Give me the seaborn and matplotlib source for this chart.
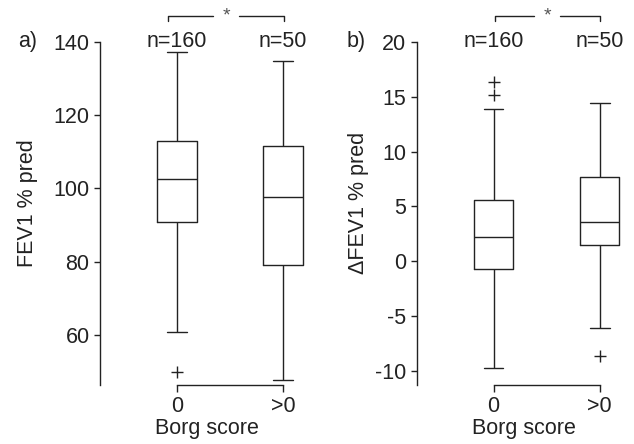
import numpy as np
import pandas as pd
import matplotlib
matplotlib.use("Agg")
import matplotlib.pyplot as plt
import matplotlib.transforms as mtransforms
import seaborn as sns

# ---- data ----
groups = ["0", ">0"]
group_n = ["n=160", "n=50"]

# panel a: FEV1 % pred  (lower whisker, Q1, median, Q3, upper whisker)
fev_whislo = [60.8, 47.6]
fev_q1 = [90.8, 79.2]
fev_med = [102.6, 97.8]
fev_q3 = [113.0, 111.7]
fev_whishi = [137.3, 134.8]
fev_out_groups = ["0"]
fev_out_values = [49.8]

# panel b: delta FEV1 % pred
dfev_whislo = [-9.7, -6.05]
dfev_q1 = [-0.7, 1.45]
dfev_med = [2.25, 3.55]
dfev_q3 = [5.6, 7.73]
dfev_whishi = [13.9, 14.47]
dfev_out_groups = ["0", "0", ">0"]
dfev_out_values = [15.15, 16.36, -8.63]

fev_ticks = [60, 80, 100, 120, 140]
dfev_ticks = [-10, -5, 0, 5, 10, 15, 20]

def summary_frame(lo, q1, med, q3, hi):
    rows = []
    for i, g in enumerate(groups):
        for v in (lo[i], q1[i], med[i], q3[i], hi[i]):
            rows.append({"group": g, "value": v})
    return pd.DataFrame(rows)

fev_df = summary_frame(fev_whislo, fev_q1, fev_med, fev_q3, fev_whishi)
dfev_df = summary_frame(dfev_whislo, dfev_q1, dfev_med, dfev_q3, dfev_whishi)
fev_out = pd.DataFrame({"group": fev_out_groups, "value": fev_out_values})
dfev_out = pd.DataFrame({"group": dfev_out_groups, "value": dfev_out_values})

# ---- style ----
sns.set_theme(style="ticks")
FONT = ["Liberation Sans", "DejaVu Sans"]
plt.rcParams["font.family"] = FONT
FS = 15.5
INK = "#222222"
plt.rcParams.update({
    "axes.edgecolor": INK, "axes.linewidth": 1.0,
    "xtick.color": INK, "ytick.color": INK,
    "xtick.labelcolor": INK, "ytick.labelcolor": INK,
    "xtick.major.size": 5, "ytick.major.size": 4.5,
    "xtick.major.width": 1.0, "ytick.major.width": 1.0,
    "xtick.major.pad": 3, "ytick.major.pad": 3,
    "text.color": INK, "axes.labelcolor": INK,
})

W, H = 634, 444
fig = plt.figure(figsize=(W / 100, H / 100), dpi=100)
ax_h = (384.7 - 42) / H
ax_w = 214.8 / W
axA = fig.add_axes([100 / W, 1 - 384.7 / H, ax_w, ax_h])
axB = fig.add_axes([416.7 / W, 1 - 384.7 / H, ax_w, ax_h])

panels = [
    (axA, fev_df, fev_out, (46.4, 140), fev_ticks, "FEV1 % pred", "a)",
     -0.289, 18, (-0.085, 1.01)),
    (axB, dfev_df, dfev_out, (-11.25, 20), dfev_ticks, "\u0394FEV1 % pred", "b)",
     -0.222, 347, (0.01, 1.0)),
]

for ax, df, out, ylim, yt, ylab, tag, labx, tagx, (bx0, bx1) in panels:
    sns.boxplot(data=df, x="group", y="value", order=groups, ax=ax,
                whis=(0, 100), width=0.37, fill=False, color=INK,
                linewidth=1.0, showfliers=False)
    sns.stripplot(data=out, x="group", y="value", order=groups, ax=ax,
                  jitter=False, marker="+", color=INK, size=8, linewidth=1.0)
    ax.set_xlim(-0.726, 1.3)
    ax.set_ylim(*ylim)
    ax.set_yticks(yt)
    ax.set_yticklabels([str(t) for t in yt], fontsize=FS)
    ax.set_xticks([0, 1])
    ax.set_xticklabels(groups, fontsize=FS)
    sns.despine(ax=ax)
    ax.spines["bottom"].set_bounds(0, 1)
    ax.set_xlabel("Borg score", fontsize=FS, labelpad=1)
    ax.set_ylabel(ylab, fontsize=FS)
    ax.yaxis.set_label_coords(labx, 0.53)
    trans = mtransforms.blended_transform_factory(ax.transData, ax.transAxes)
    for i, lab in enumerate(group_n):
        ax.text(i, 0.985, lab, transform=trans, ha="center", va="baseline",
                fontsize=FS, clip_on=False)
    fig.text(tagx / W, 1 - 47 / H, tag, ha="left", va="baseline", fontsize=FS)
    # significance bracket
    yb, yt2 = 1.076, 1.061
    xm = (bx0 + bx1) / 2
    gap = 0.125
    ax.plot([bx0, bx0, xm - gap], [yt2, yb, yb], transform=trans,
            color=INK, lw=1.0, clip_on=False)
    ax.plot([xm + gap, bx1, bx1], [yb, yb, yt2], transform=trans,
            color=INK, lw=1.0, clip_on=False)
    ax.text(xm, yb, "*", transform=trans, ha="center", va="center",
            fontsize=14, color="#555555", clip_on=False)

fig.savefig("out.png", dpi=100)
